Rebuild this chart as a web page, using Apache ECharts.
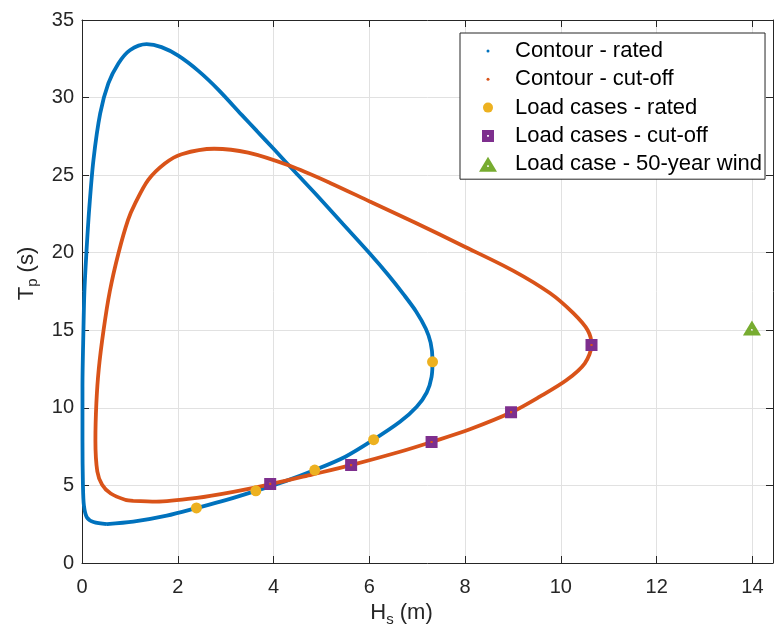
<!DOCTYPE html>
<html>
<head>
<meta charset="utf-8">
<script src="https://cdn.jsdelivr.net/npm/echarts@6/dist/echarts.min.js"></script>
<style>html,body{margin:0;padding:0;background:#fff;}#c{width:774px;height:641px;}</style>
</head>
<body>
<div id="c"></div>
<script>
// Environmental contour, rated wind speed: [Hs (m), Tp (s)]
const ratedContour = [
  [0.52,2.51],[1.07,2.66],[1.77,3.05],[2.40,3.55],[3.00,4.05],[3.63,4.65],[4.25,5.28],
  [4.86,5.99],[5.50,6.85],[6.09,7.95],[6.64,9.10],[6.99,10.07],[7.20,11.0],[7.30,12.0],
  [7.32,13.1],[7.28,14.2],[7.18,15.1],[6.98,16.2],[6.72,17.3],[6.40,18.55],[6.01,19.95],
  [5.45,21.85],[4.90,23.72],[4.45,25.2],[4.03,26.6],[3.65,27.85],[3.33,28.9],[2.85,30.5],
  [2.43,31.72],[2.01,32.70],[1.66,33.25],[1.35,33.44],[1.00,33.05],[0.76,32.20],[0.55,30.91],
  [0.38,28.98],[0.24,26.0],[0.15,22.8],[0.09,19.9],[0.05,17.5],[0.03,15.0],[0.01,11.36],
  [0.01,7.93],[0.02,5.0],[0.04,3.7],[0.10,2.95],[0.24,2.64],[0.52,2.51]
];
// Environmental contour, cut-off wind speed
const cutoffContour = [
  [1.07,4.01],[1.55,3.96],[2.40,4.20],[3.16,4.59],[3.93,5.07],[4.80,5.70],[5.62,6.31],
  [6.64,7.17],[7.30,7.80],[8.10,8.62],[8.98,9.73],[9.56,10.72],[10.12,11.79],[10.50,12.87],
  [10.64,14.05],[10.56,15.0],[10.26,16.1],[9.77,17.4],[9.00,18.85],[7.95,20.45],
  [6.95,21.95],[6.01,23.3],[5.18,24.5],[4.34,25.6],[3.47,26.45],[2.76,26.70],[2.08,26.35],
  [1.73,25.75],[1.38,24.68],[1.11,23.18],[0.96,22.1],[0.76,19.95],[0.58,17.5],[0.45,15.0],
  [0.35,12.5],[0.30,10.3],[0.28,7.9],[0.32,5.9],[0.42,5.05],[0.60,4.48],[0.90,4.08],[1.07,4.01]
];
const ratedLoadCases = [[2.39,3.55],[3.63,4.65],[4.86,5.99],[6.09,7.95],[7.32,12.97]];
const cutoffLoadCases = [[3.93,5.10],[5.62,6.31],[7.30,7.80],[8.96,9.72],[10.64,14.05]];
const windLoadCase = [[13.99,15.15]];
const seriesNames = ['Contour - rated','Contour - cut-off','Load cases - rated','Load cases - cut-off','Load case - 50-year wind'];

const FONT = "'Liberation Sans', Arial, Helvetica, sans-serif";
const TXT = '#262626';
const C_BLUE = '#0072BD', C_ORANGE = '#D95319', C_YELLOW = '#EDB120', C_PURPLE = '#7E2F8E', C_GREEN = '#77AC30';

const squareHole = 'path://M0,0 L10,0 L10,10 L0,10 Z M4.1,4.1 L4.1,5.9 L5.9,5.9 L5.9,4.1 Z';
const triHole = 'path://M0,15 L9,0 L18,15 Z M8.2,8.6 L8.2,10.2 L9.8,10.2 L9.8,8.6 Z';

const icons = [
  'path://M0,0 M20,20 M11.5,10 A1.5,1.5 0 1,1 8.5,10 A1.5,1.5 0 1,1 11.5,10 Z',
  'path://M0,0 M20,20 M11.5,10 A1.5,1.5 0 1,1 8.5,10 A1.5,1.5 0 1,1 11.5,10 Z',
  'path://M0,0 M20,20 M15,10 A5,5 0 1,1 5,10 A5,5 0 1,1 15,10 Z',
  'path://M0,0 M20,20 M4,4 L16,4 L16,16 L4,16 Z M9.1,9.1 L9.1,10.9 L10.9,10.9 L10.9,9.1 Z',
  'path://M0,0 M20,20 M1,17.5 L10,2.5 L19,17.5 Z M9.2,11.1 L9.2,12.7 L10.8,12.7 L10.8,11.1 Z'
];

const chart = echarts.init(document.getElementById('c'), null, {renderer: 'canvas'});
const X_MAX = 14.43;
const axisLineStyle = {color: TXT, width: 1};
chart.setOption({
  animation: false,
  backgroundColor: '#fff',
  textStyle: {fontFamily: FONT},
  grid: {left: 82, right: 1, top: 20, bottom: 78, containLabel: false, outerBoundsMode: 'none'},
  legend: {
    orient: 'vertical',
    left: 460, top: 33,
    padding: [7, 3, 4, 18],
    itemWidth: 44, itemHeight: 20, itemGap: 6.3,
    backgroundColor: '#fff',
    borderColor: TXT, borderWidth: 1,
    borderRadius: 0,
    textStyle: {fontSize: 22, color: '#000', fontFamily: FONT},
    data: seriesNames.map((n, i) => ({name: n, icon: icons[i]})),
    selectedMode: false
  },
  xAxis: [{
    type: 'value', min: 0, max: X_MAX, interval: 2,
    name: '{a|H}{b|s}{a| (m)}', nameLocation: 'middle', nameGap: 36,
    nameTextStyle: {padding: [0, 52, 0, 0], rich: {
      a: {fontSize: 22, color: TXT, fontFamily: FONT, lineHeight: 28},
      b: {fontSize: 15, color: TXT, fontFamily: FONT, lineHeight: 14, verticalAlign: 'bottom'}
    }},
    axisLine: {show: true, onZero: false, lineStyle: axisLineStyle},
    axisTick: {show: true, inside: true, length: 7, lineStyle: axisLineStyle},
    axisLabel: {fontSize: 20, color: TXT, fontFamily: FONT, margin: 14,
      formatter: v => (Math.abs(v % 2) < 1e-9 ? String(v) : '')},
    splitLine: {show: true, lineStyle: {color: '#e1e1e1', width: 1}}
  }, {
    type: 'value', min: 0, max: X_MAX, interval: 2, position: 'top',
    axisLine: {show: true, onZero: false, lineStyle: axisLineStyle},
    axisTick: {show: true, inside: true, length: 7, lineStyle: axisLineStyle},
    axisLabel: {show: false}, splitLine: {show: false}
  }],
  yAxis: [{
    type: 'value', min: 0, max: 35, interval: 5,
    name: '{a|T}{b|p}{a| (s)}', nameLocation: 'middle', nameGap: 37, nameRotate: 90,
    nameTextStyle: {padding: [0, 0, 0, 36], rich: {
      a: {fontSize: 22, color: TXT, fontFamily: FONT, lineHeight: 28},
      b: {fontSize: 15, color: TXT, fontFamily: FONT, lineHeight: 14, verticalAlign: 'bottom'}
    }},
    axisLine: {show: true, onZero: false, lineStyle: axisLineStyle},
    axisTick: {show: true, inside: true, length: 7, lineStyle: axisLineStyle},
    axisLabel: {fontSize: 20, color: TXT, fontFamily: FONT, margin: 8},
    splitLine: {show: true, lineStyle: {color: '#e1e1e1', width: 1}}
  }, {
    type: 'value', min: 0, max: 35, interval: 5, position: 'right',
    axisLine: {show: true, onZero: false, lineStyle: axisLineStyle},
    axisTick: {show: true, inside: true, length: 7, lineStyle: axisLineStyle},
    axisLabel: {show: false}, splitLine: {show: false}
  }],
  series: [
    {name: seriesNames[0], type: 'line', data: ratedContour, smooth: 0.3, showSymbol: false,
     itemStyle: {color: C_BLUE}, lineStyle: {color: C_BLUE, width: 3.8}, z: 2},
    {name: seriesNames[1], type: 'line', data: cutoffContour, smooth: 0.3, showSymbol: false,
     itemStyle: {color: C_ORANGE}, lineStyle: {color: C_ORANGE, width: 3.8}, z: 3},
    {name: seriesNames[2], type: 'scatter', data: ratedLoadCases, symbol: 'circle', symbolSize: 11,
     itemStyle: {color: C_YELLOW, opacity: 1}, z: 4},
    {name: seriesNames[3], type: 'scatter', data: cutoffLoadCases, symbol: squareHole, symbolSize: 12,
     itemStyle: {color: C_PURPLE, opacity: 1}, z: 5},
    {name: seriesNames[4], type: 'scatter', data: windLoadCase, symbol: triHole, symbolSize: [18, 15],
     itemStyle: {color: C_GREEN, opacity: 1}, z: 5}
  ]
});
</script>
</body>
</html>
